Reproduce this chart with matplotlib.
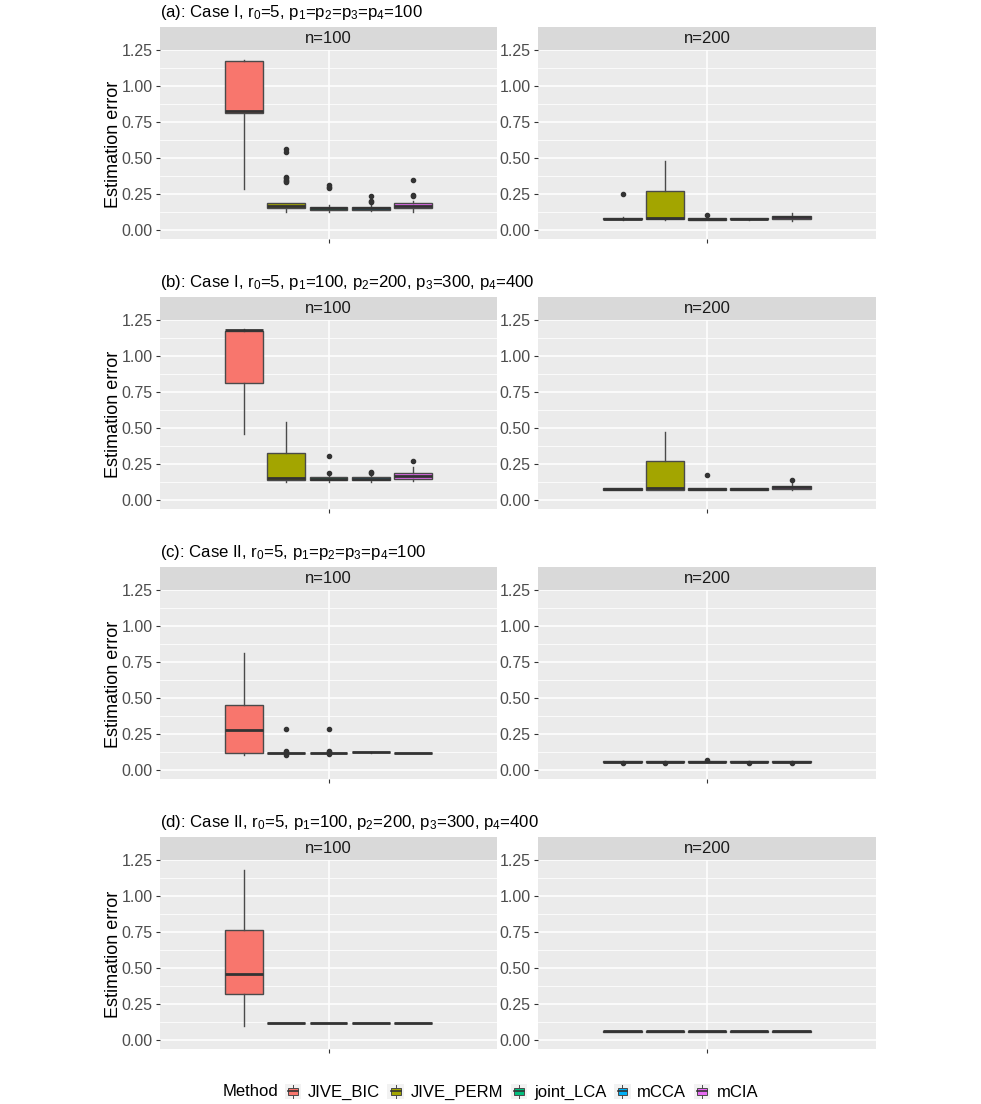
import matplotlib
matplotlib.use("Agg")
import matplotlib.pyplot as plt
from matplotlib.patches import Rectangle
from matplotlib.lines import Line2D
from matplotlib.legend_handler import HandlerBase

plt.rcParams['font.family'] = ['Liberation Sans', 'DejaVu Sans']
plt.rcParams['mathtext.fontset'] = 'custom'
plt.rcParams['mathtext.rm'] = 'Liberation Sans'
plt.rcParams['mathtext.it'] = 'Liberation Sans:italic'

# ---------------- data ----------------
METHODS = ["JIVE_BIC", "JIVE_PERM", "joint_LCA", "mCCA", "mCIA"]
COLORS = ["#F8766D", "#A3A500", "#00BF7D", "#00B0F6", "#E76BF3"]
TITLES = [
    r"(a): Case I, $\mathregular{r_0}$=5, $\mathregular{p_1}$=$\mathregular{p_2}$=$\mathregular{p_3}$=$\mathregular{p_4}$=100",
    r"(b): Case I, $\mathregular{r_0}$=5, $\mathregular{p_1}$=100, $\mathregular{p_2}$=200, $\mathregular{p_3}$=300, $\mathregular{p_4}$=400",
    r"(c): Case II, $\mathregular{r_0}$=5, $\mathregular{p_1}$=$\mathregular{p_2}$=$\mathregular{p_3}$=$\mathregular{p_4}$=100",
    r"(d): Case II, $\mathregular{r_0}$=5, $\mathregular{p_1}$=100, $\mathregular{p_2}$=200, $\mathregular{p_3}$=300, $\mathregular{p_4}$=400",
]
STRIPS = ["n=100", "n=200"]
YTICKS = [0.00, 0.25, 0.50, 0.75, 1.00, 1.25]
YTICK_LABELS = ["0.00", "0.25", "0.50", "0.75", "1.00", "1.25"]

# each row: [whisker low, Q1, median, Q3, whisker high]
A100 = [[0.286, 0.815, 0.825, 1.179, 1.186],
        [0.128, 0.150, 0.170, 0.187, 0.190],
        [0.128, 0.140, 0.152, 0.163, 0.175],
        [0.130, 0.140, 0.152, 0.163, 0.175],
        [0.128, 0.152, 0.170, 0.187, 0.200]]
A100_OUT = [[], [0.567, 0.544, 0.370, 0.360, 0.350, 0.340, 0.335], [0.310, 0.302, 0.295],
            [0.237, 0.205, 0.195], [0.347, 0.245, 0.235]]
A200 = [[0.070, 0.073, 0.078, 0.082, 0.088],
        [0.070, 0.073, 0.081, 0.270, 0.479],
        [0.068, 0.072, 0.077, 0.082, 0.088],
        [0.070, 0.073, 0.077, 0.080, 0.085],
        [0.065, 0.076, 0.088, 0.097, 0.120]]
A200_OUT = [[0.248], [], [0.105], [], []]

B100 = [[0.458, 0.814, 1.184, 1.179, 1.193],
        [0.128, 0.137, 0.151, 0.326, 0.542],
        [0.128, 0.137, 0.147, 0.158, 0.170],
        [0.128, 0.137, 0.147, 0.158, 0.170],
        [0.130, 0.146, 0.167, 0.186, 0.228]]
B100_OUT = [[], [], [0.305, 0.185], [0.198, 0.190], [0.272]]
B200 = [[0.068, 0.070, 0.077, 0.080, 0.082],
        [0.068, 0.072, 0.081, 0.270, 0.474],
        [0.068, 0.070, 0.075, 0.080, 0.085],
        [0.068, 0.070, 0.076, 0.080, 0.082],
        [0.070, 0.076, 0.090, 0.097, 0.120]]
B200_OUT = [[], [], [0.172], [], [0.137]]

C100 = [[0.105, 0.116, 0.279, 0.449, 0.814],
        [0.114, 0.115, 0.117, 0.119, 0.121],
        [0.114, 0.115, 0.117, 0.119, 0.121],
        [0.121, 0.122, 0.123, 0.124, 0.125],
        [0.116, 0.117, 0.118, 0.119, 0.120]]
C100_OUT = [[], [0.282, 0.135, 0.125, 0.105], [0.282, 0.135, 0.125, 0.108], [], []]
C200 = [[0.056, 0.057, 0.058, 0.059, 0.060]] * 5
C200_OUT = [[0.048], [0.048], [0.066], [0.048], [0.048]]

D100 = [[0.098, 0.323, 0.456, 0.763, 1.181],
        [0.115, 0.116, 0.117, 0.118, 0.119],
        [0.115, 0.116, 0.117, 0.118, 0.119],
        [0.115, 0.116, 0.117, 0.118, 0.119],
        [0.115, 0.116, 0.117, 0.118, 0.119]]
D100_OUT = [[], [], [], [], []]
D200 = [[0.057, 0.058, 0.059, 0.060, 0.061]] * 5
D200_OUT = [[], [], [], [], []]

PANELS = [[(A100, A100_OUT), (A200, A200_OUT)],
          [(B100, B100_OUT), (B200, B200_OUT)],
          [(C100, C100_OUT), (C200, C200_OUT)],
          [(D100, D100_OUT), (D200, D200_OUT)]]

# ---------------- layout ----------------
W, H = 981, 1104
fig = plt.figure(figsize=(W / 100, H / 100), dpi=100)
fig.patch.set_facecolor("white")


def rect(x0, y0, x1, y1):
    return [x0 / W, 1 - y1 / H, (x1 - x0) / W, (y1 - y0) / H]


PANEL_X = [(160, 497), (538, 876)]
ROW_OFF = 270
EDGE = "#4a4a4a"

for r in range(4):
    oy = r * ROW_OFF
    strip_top, strip_bot, pan_bot = 27 + oy, 50 + oy, 239 + oy
    fig.text(160 / W, 1 - (13 + oy) / H, TITLES[r], fontsize=12.1, color="black",
             ha="left", va="center")
    fig.text(113 / W, 1 - ((strip_bot + pan_bot) / 2) / H, "Estimation error",
             rotation=90, fontsize=13, ha="center", va="center", color="black")
    for c in range(2):
        x0, x1 = PANEL_X[c]
        sax = fig.add_axes(rect(x0, strip_top, x1, strip_bot))
        sax.set_facecolor("#D9D9D9")
        sax.set_xticks([]); sax.set_yticks([])
        for s in sax.spines.values():
            s.set_visible(False)
        sax.text(0.5, 0.5, STRIPS[c], fontsize=12, color="#1A1A1A",
                 ha="center", va="center", transform=sax.transAxes)

        ax = fig.add_axes(rect(x0, strip_bot, x1, pan_bot))
        ax.set_facecolor("#EBEBEB")
        for s in ax.spines.values():
            s.set_visible(False)
        ax.set_xlim(0.4, 1.6)
        ax.set_ylim(-0.063, 1.253)
        ax.set_yticks(YTICKS)
        ax.set_yticklabels(YTICK_LABELS)
        ax.set_yticks([0.125, 0.375, 0.625, 0.875, 1.125], minor=True)
        ax.tick_params(axis="both", which="major", length=3.2, width=0.8,
                       color="#333333", labelcolor="#4D4D4D", labelsize=11.5, pad=2)
        ax.tick_params(axis="y", which="minor", length=0)
        ax.grid(True, which="major", color="white", linewidth=1.1)
        ax.grid(True, which="minor", axis="y", color="white", linewidth=0.55)
        ax.set_axisbelow(True)

        stats, outs = PANELS[r][c]
        bstats = []
        for i in range(5):
            s = stats[i]
            bstats.append(dict(whislo=s[0], q1=s[1], med=s[2], q3=s[3],
                               whishi=s[4], fliers=outs[i], label=METHODS[i]))
        positions = [1 + (i - 2) * 0.15 for i in range(5)]
        bp = ax.bxp(bstats, positions=positions, widths=0.135, patch_artist=True,
                    showcaps=False,
                    boxprops=dict(edgecolor=EDGE, linewidth=1.0),
                    whiskerprops=dict(color=EDGE, linewidth=1.0),
                    medianprops=dict(color="#333333", linewidth=2.0, solid_capstyle="butt"),
                    flierprops=dict(marker="o", markerfacecolor="#333333",
                                    markeredgecolor="#333333", markersize=3.0),
                    manage_ticks=False)
        for patch, col in zip(bp["boxes"], COLORS):
            patch.set_facecolor(col)
        ax.set_xticks([1.0])
        ax.set_xticklabels([""])


# ---------------- legend ----------------
class BoxKey(HandlerBase):
    def create_artists(self, legend, orig_handle, xdescent, ydescent, width, height,
                       fontsize, trans):
        fc = orig_handle.get_facecolor()
        bg = Rectangle((-xdescent, -ydescent), width, height, facecolor="#F2F2F2",
                       edgecolor="none", transform=trans)
        cx = -xdescent + width / 2
        bw = width * 0.58
        by0 = -ydescent + height * 0.27
        bh = height * 0.46
        box = Rectangle((cx - bw / 2, by0), bw, bh, facecolor=fc, edgecolor=EDGE,
                        linewidth=0.7, transform=trans)
        w1 = Line2D([cx, cx], [-ydescent + height * 0.1, by0], color=EDGE, lw=0.7,
                    transform=trans)
        w2 = Line2D([cx, cx], [by0 + bh, -ydescent + height * 0.9], color=EDGE, lw=0.7,
                    transform=trans)
        med = Line2D([cx - bw / 2, cx + bw / 2], [by0 + bh / 2] * 2, color="#333333",
                     lw=1.2, transform=trans)
        return [bg, w1, w2, box, med]


handles = [Rectangle((0, 0), 1, 1, facecolor=col) for col in COLORS]
fig.text(223 / W, 1 - 1092 / H, "Method", fontsize=12, ha="left", va="center")
fig.legend(handles, METHODS, handler_map={Rectangle: BoxKey()}, loc="center left",
           bbox_to_anchor=(284.5 / W, 1 - 1092 / H), ncol=5, frameon=False,
           fontsize=12, handlelength=1.0, handleheight=1.05, handletextpad=0.4,
           columnspacing=0.45, borderaxespad=0, borderpad=0)

fig.savefig("out.png", dpi=100)
